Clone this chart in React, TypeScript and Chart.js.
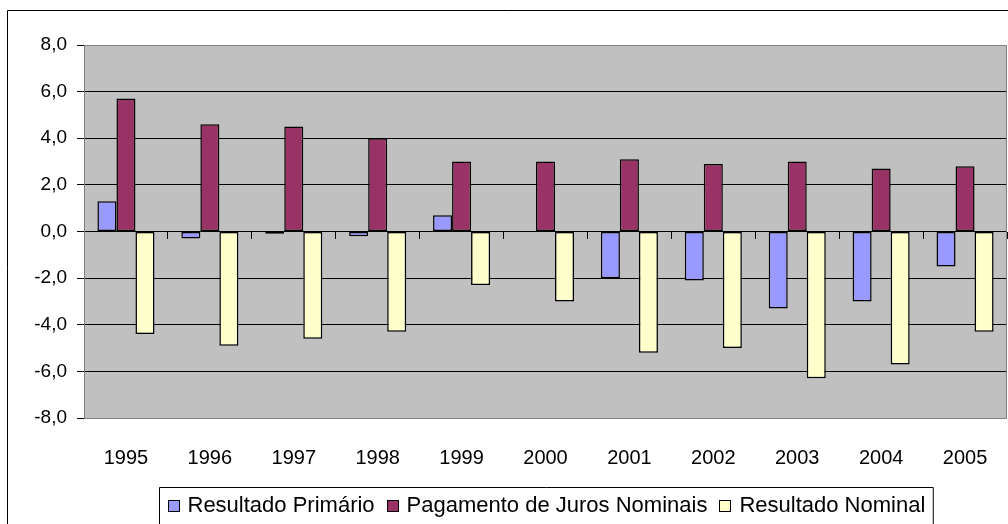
import React, { useEffect, useRef } from 'react';
import { Chart, registerables } from 'chart.js';

Chart.register(...registerables);

const years = ['1995', '1996', '1997', '1998', '1999', '2000', '2001', '2002', '2003', '2004', '2005'];
const resultadoPrimario = [1.3, -0.3, -0.1, -0.2, 0.7, 0, -2.0, -2.1, -3.3, -3.0, -1.5];
const jurosNominais = [5.7, 4.6, 4.5, 4.0, 3.0, 3.0, 3.1, 2.9, 3.0, 2.7, 2.8];
const resultadoNominal = [-4.4, -4.9, -4.6, -4.3, -2.3, -3.0, -5.2, -5.0, -6.3, -5.7, -4.3];
const seriesNames = ['Resultado Primário', 'Pagamento de Juros Nominais', 'Resultado Nominal'];
const yMin = -8;
const yMax = 8;
const yStep = 2;

const FONT = "'Liberation Sans', Arial, Helvetica, sans-serif";

const chartDecor = {
  id: 'chartDecor',
  beforeDraw(chart: any) {
    const { ctx, chartArea: a } = chart;
    ctx.save();
    ctx.fillStyle = '#ffffff';
    ctx.fillRect(0, 0, chart.width, chart.height);
    ctx.fillStyle = '#C0C0C0';
    ctx.fillRect(a.left, a.top, a.right - a.left, a.bottom - a.top);
    ctx.strokeStyle = '#000000';
    ctx.lineWidth = 1;
    ctx.beginPath();
    ctx.moveTo(7.5, chart.height + 10);
    ctx.lineTo(7.5, 10.5);
    ctx.lineTo(chart.width + 10, 10.5);
    ctx.stroke();
    ctx.restore();
  },
  afterDraw(chart: any) {
    const { ctx, chartArea: a } = chart;
    ctx.save();
    // plot right border
    ctx.strokeStyle = '#808080';
    ctx.lineWidth = 1;
    ctx.beginPath();
    ctx.moveTo(a.right - 0.5, a.top);
    ctx.lineTo(a.right - 0.5, a.bottom);
    ctx.stroke();

    // legend
    const fontSize = 22;
    ctx.font = `${fontSize}px ${FONT}`;
    const sq = 11;
    const gap = 9;
    const spacing = 12;
    const pad = 8;
    const items = chart.data.datasets.map((d: any) => ({
      label: d.label,
      color: d.backgroundColor,
      w: sq + gap + ctx.measureText(d.label).width,
    }));
    const total = items.reduce((s: number, it: any) => s + it.w, 0) + spacing * (items.length - 1) + pad * 2;
    const cx = (a.left + a.right) / 2;
    const boxLeft = Math.round(cx - total / 2) + 0.5;
    const boxTop = 487.5;
    ctx.strokeStyle = '#000000';
    ctx.lineWidth = 1;
    ctx.beginPath();
    ctx.moveTo(boxLeft, chart.height + 10);
    ctx.lineTo(boxLeft, boxTop);
    ctx.lineTo(boxLeft + total, boxTop);
    ctx.lineTo(boxLeft + total, chart.height + 10);
    ctx.stroke();
    let x = boxLeft + pad;
    const cy = 505.5;
    ctx.textBaseline = 'middle';
    ctx.textAlign = 'left';
    for (const it of items) {
      const sx = Math.round(x) + 0.5;
      const sy = Math.round(cy - sq / 2) + 0.5;
      ctx.fillStyle = it.color;
      ctx.fillRect(sx, sy, sq, sq);
      ctx.strokeStyle = '#000000';
      ctx.strokeRect(sx, sy, sq, sq);
      ctx.fillStyle = '#000000';
      ctx.fillText(it.label, x + sq + gap, cy);
      x += it.w + spacing;
    }
    ctx.restore();
  },
};

export default function App() {
  const ref = useRef<HTMLCanvasElement>(null);

  useEffect(() => {
    const canvas = ref.current;
    if (!canvas) return;
    const barCommon = {
      borderColor: '#000000',
      borderWidth: 1.5,
      borderSkipped: false,
      barPercentage: 1,
      categoryPercentage: 0.68,
    };
    const chart = new Chart(canvas, {
      type: 'bar',
      data: {
        labels: years,
        datasets: [
          { label: seriesNames[0], data: resultadoPrimario, backgroundColor: '#9999FF', ...barCommon },
          { label: seriesNames[1], data: jurosNominais, backgroundColor: '#993366', ...barCommon },
          { label: seriesNames[2], data: resultadoNominal, backgroundColor: '#FFFFCC', ...barCommon },
        ] as any,
      },
      options: {
        responsive: false,
        animation: false,
        devicePixelRatio: 1,
        layout: { padding: { top: 45, right: 1, bottom: 0, left: 0 } },
        plugins: {
          legend: { display: false },
          tooltip: { enabled: false },
          title: { display: false },
        },
        scales: {
          x: {
            type: 'category',
            offset: true,
            grid: { display: false },
            border: { display: false },
            ticks: {
              color: '#000000',
              font: { family: FONT, size: 20 },
              padding: 20,
              maxRotation: 0,
              autoSkip: false,
            },
            afterFit: (s: any) => {
              s.height = 106;
            },
          },
          x2: {
            type: 'category',
            labels: years,
            position: { y: 0 } as any,
            offset: true,
            grid: {
              offset: true,
              drawOnChartArea: false,
              drawTicks: true,
              tickLength: 7,
              tickColor: '#000000',
              tickWidth: 1,
            },
            border: { display: false },
            ticks: { display: false },
            afterFit: (s: any) => {
              s.height = 0;
            },
          },
          y: {
            type: 'linear',
            min: yMin,
            max: yMax,
            ticks: {
              stepSize: yStep,
              color: '#000000',
              font: { family: FONT, size: 19 },
              padding: 10,
              callback: (v: any) => Number(v).toFixed(1).replace('.', ','),
            },
            grid: {
              color: (c: any) => (c.tick && (c.tick.value === yMin || c.tick.value === yMax) ? '#808080' : '#000000'),
              lineWidth: 1,
              drawTicks: true,
              tickLength: 7,
              tickColor: '#000000',
            },
            border: { display: true, color: '#808080', width: 1 },
            afterFit: (s: any) => {
              s.width = 84;
            },
          },
        },
      } as any,
      plugins: [chartDecor],
    });
    return () => chart.destroy();
  }, []);

  return (
    <div style={{ position: 'fixed', left: 0, top: 0, width: 1008, height: 524, background: '#ffffff' }}>
      <canvas ref={ref} width={1008} height={524} style={{ display: 'block' }} />
    </div>
  );
}
